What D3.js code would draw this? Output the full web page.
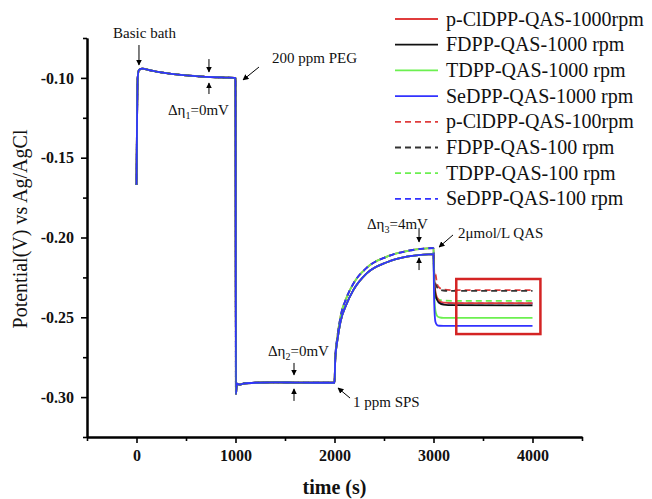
<!DOCTYPE html>
<html>
<head>
<meta charset="utf-8">
<script src="https://cdn.jsdelivr.net/npm/d3@7"></script>
<style>
  html, body { margin: 0; padding: 0; background: #fff; }
  svg { display: block; font-family: "Liberation Serif", "Times New Roman", serif; }
</style>
</head>
<body>
<svg id="chart" width="652" height="499"></svg>
<script>
// ---------------- DATA ----------------
const seriesNames = [
  "p-ClDPP-QAS-1000rpm", "FDPP-QAS-1000 rpm", "TDPP-QAS-1000 rpm", "SeDPP-QAS-1000 rpm",
  "p-ClDPP-QAS-100rpm", "FDPP-QAS-100 rpm", "TDPP-QAS-100 rpm", "SeDPP-QAS-100 rpm"
];
const seriesDashed = [false, false, false, false, true, true, true, true];

// common part (basic bath + 200 ppm PEG), time (s) / potential (V)
const baseT = [0, 5, 12, 25, 60, 120, 200, 300, 400, 500, 600, 700, 800, 900, 995, 1000, 1004, 1015, 1040, 1080, 1200, 1400, 1600, 1800, 1995];
const baseV = [-0.1670, -0.1300, -0.1000, -0.0950, -0.0942, -0.0950, -0.0960, -0.0970, -0.0978, -0.0984, -0.0989, -0.0993, -0.0996, -0.0998, -0.1000, -0.1002, -0.2980, -0.2915, -0.2922, -0.2915, -0.2910, -0.2908, -0.2909, -0.2910, -0.2910];

// 1 ppm SPS section
const riseT = [2000, 2008, 2030, 2060, 2120, 2190, 2325, 2530, 2730, 2900, 2998];
const riseSolidV  = [-0.2910, -0.2760, -0.2640, -0.2530, -0.2420, -0.2330, -0.2225, -0.2155, -0.2120, -0.2107, -0.2104];
const riseDashedV = [-0.2910, -0.2750, -0.2620, -0.2500, -0.2380, -0.2290, -0.2190, -0.2120, -0.2085, -0.2070, -0.2066];

// 2 umol/L QAS section
const tailT = [3000, 3004, 3010, 3020, 3035, 3060, 3100, 3200, 4000];
const tail_pCl1000 = [-0.2104, -0.2180, -0.2280, -0.2340, -0.2375, -0.2398, -0.2408, -0.2411, -0.2412];
const tail_F1000   = [-0.2104, -0.2220, -0.2310, -0.2360, -0.2390, -0.2410, -0.2420, -0.2424, -0.2425];
const tail_T1000   = [-0.2104, -0.2260, -0.2390, -0.2460, -0.2490, -0.2501, -0.2504, -0.2504, -0.2504];
const tail_Se1000  = [-0.2104, -0.2300, -0.2460, -0.2530, -0.2548, -0.2553, -0.2554, -0.2554, -0.2554];
const tail_pCl100  = [-0.2066, -0.2150, -0.2240, -0.2230, -0.2290, -0.2315, -0.2326, -0.2330, -0.2330];
const tail_F100    = [-0.2066, -0.2170, -0.2260, -0.2290, -0.2310, -0.2325, -0.2332, -0.2335, -0.2335];
const tail_T100    = [-0.2066, -0.2190, -0.2290, -0.2350, -0.2378, -0.2390, -0.2395, -0.2397, -0.2397];
const tail_Se100   = [-0.2066, -0.2200, -0.2320, -0.2380, -0.2400, -0.2408, -0.2412, -0.2413, -0.2413];
const tails = [tail_pCl1000, tail_F1000, tail_T1000, tail_Se1000, tail_pCl100, tail_F100, tail_T100, tail_Se100];

const xMajorTicks = [0, 1000, 2000, 3000, 4000];
const xMinorTicks = [-500, 500, 1500, 2500, 3500, 4500];
const yMajorTicks = [-0.30, -0.25, -0.20, -0.15, -0.10];
const yMinorTicks = [-0.325, -0.275, -0.225, -0.175, -0.125, -0.075];

// highlighted region (data coords)
const boxT = [3230, 4080];
const boxV = [-0.2605, -0.2260];

// annotations (data coords)
const arrows = [ // [t1, v1, t2, v2] tail -> head
  [25, -0.0794, 25, -0.0919],
  [732, -0.0882, 732, -0.0963],
  [732, -0.1101, 732, -0.1032],
  [1237, -0.0932, 1076, -0.1013],
  [1591, -0.2786, 1591, -0.2861],
  [1591, -0.3024, 1591, -0.2949],
  [2157, -0.3006, 2035, -0.2943],
  [2854, -0.1940, 2854, -0.2028],
  [2854, -0.2204, 2854, -0.2128],
  [3197, -0.1984, 3056, -0.2060]
];
const labels = [ // [t, v, text, sub, rest, anchor]
  [81, -0.0719, "Basic bath", "", "", "middle"],
  [1369, -0.0875, "200 ppm PEG", "", "", "start"],
  [318, -0.1201, "Δη", "1", "=0mV", "start"],
  [1328, -0.2711, "Δη", "2", "=0mV", "start"],
  [2187, -0.3031, "1 ppm SPS", "", "", "start"],
  [2328, -0.1915, "Δη", "3", "=4mV", "start"],
  [3247, -0.1972, "2μmol/L QAS", "", "", "start"]
];

// ---------------- STYLE ----------------
const colors = ["#e03c3c", "#111111", "#6cf050", "#3232ff", "#e03c3c", "#333333", "#6cf050", "#3232ff"];
const dashOffsets = [0, 0, 0, 0, 0, 5, 0, 5];

// ---------------- CHART ----------------
const svg = d3.select("#chart");
const x = d3.scaleLinear().domain([-500, 4500]).range([87, 582]);
const y = d3.scaleLinear().domain([-0.325, -0.075]).range([437, 38]);

const defs = svg.append("defs");
defs.append("marker").attr("id", "ah")
  .attr("viewBox", "0 0 10 10").attr("refX", 9).attr("refY", 5)
  .attr("markerWidth", 6).attr("markerHeight", 6)
  .attr("markerUnits", "userSpaceOnUse")
  .attr("orient", "auto")
  .append("path").attr("d", "M0,0 L10,5 L0,10 Z").attr("fill", "#000");

// build series
const series = seriesNames.map((name, i) => {
  const pts = baseT.map((t, k) => [t, baseV[k]]);
  const rv = seriesDashed[i] ? riseDashedV : riseSolidV;
  riseT.forEach((t, k) => pts.push([t, rv[k]]));
  tailT.forEach((t, k) => pts.push([t, tails[i][k]]));
  return { name, dashed: seriesDashed[i], color: colors[i], off: dashOffsets[i], pts };
});

const line = d3.line().x(d => x(d[0])).y(d => y(d[1])).curve(d3.curveMonotoneX);

// draw dashed first, then solid on top
const drawOrder = [4, 5, 6, 7, 0, 1, 2, 3];
svg.append("g").selectAll("path").data(drawOrder.map(i => series[i])).join("path")
  .attr("d", d => line(d.pts))
  .attr("fill", "none")
  .attr("stroke", d => d.color)
  .attr("stroke-width", 1.8)
  .attr("stroke-dasharray", d => d.dashed ? "6,4" : null)
  .attr("stroke-dashoffset", d => d.off);

// red box
svg.append("rect")
  .attr("x", x(boxT[0])).attr("y", y(boxV[1]))
  .attr("width", x(boxT[1]) - x(boxT[0])).attr("height", y(boxV[0]) - y(boxV[1]))
  .attr("fill", "none").attr("stroke", "#d42424").attr("stroke-width", 2.5);

// axes
const fmt = d => d.toFixed(2);
const gx = svg.append("g").attr("transform", "translate(0,437)")
  .call(d3.axisBottom(x).tickValues(xMajorTicks).tickSize(6).tickSizeOuter(0).tickPadding(7).tickFormat(d3.format("d")));
const gxm = svg.append("g").attr("transform", "translate(0,437)")
  .call(d3.axisBottom(x).tickValues(xMinorTicks).tickSize(4).tickSizeOuter(0).tickFormat(""));
const gy = svg.append("g").attr("transform", "translate(87,0)")
  .call(d3.axisLeft(y).tickValues(yMajorTicks).tickSize(6).tickSizeOuter(0).tickPadding(7).tickFormat(fmt));
const gym = svg.append("g").attr("transform", "translate(87,0)")
  .call(d3.axisLeft(y).tickValues(yMinorTicks).tickSize(4).tickSizeOuter(0).tickFormat(""));
[gx, gxm, gy, gym].forEach(g => {
  g.selectAll("path.domain").attr("stroke", "#000").attr("stroke-width", 2);
  g.selectAll(".tick line").attr("stroke", "#000").attr("stroke-width", 1.6);
  g.selectAll("text").attr("fill", "#111").attr("font-size", 16).attr("font-weight", "bold")
    .attr("font-family", "'Liberation Serif', 'Times New Roman', serif");
});

// axis titles
svg.append("text").attr("x", x(2000)).attr("y", 494)
  .attr("text-anchor", "middle").attr("font-size", 20).attr("font-weight", "bold").attr("fill", "#111")
  .text("time (s)");
svg.append("text").attr("transform", "translate(27,229) rotate(-90)")
  .attr("text-anchor", "middle").attr("font-size", 20).attr("fill", "#111")
  .text("Potential(V) vs Ag/AgCl");

// annotation arrows
svg.append("g").selectAll("line").data(arrows).join("line")
  .attr("x1", d => x(d[0])).attr("y1", d => y(d[1]))
  .attr("x2", d => x(d[2])).attr("y2", d => y(d[3]))
  .attr("stroke", "#000").attr("stroke-width", 1)
  .attr("marker-end", "url(#ah)");

// annotation labels
const lab = svg.append("g").selectAll("text").data(labels).join("text")
  .attr("x", d => x(d[0])).attr("y", d => y(d[1]) + 5)
  .attr("text-anchor", d => d[5])
  .attr("font-size", 15).attr("fill", "#111");
lab.append("tspan").text(d => d[2]);
lab.filter(d => d[3]).append("tspan").attr("font-size", 10).attr("dy", 4).text(d => d[3]);
lab.filter(d => d[4]).append("tspan").attr("dy", -4).text(d => d[4]);

// legend
const leg = svg.append("g").selectAll("g").data(series).join("g")
  .attr("transform", (d, i) => `translate(395,${19 + i * 25.7})`);
leg.append("line").attr("x1", 0).attr("x2", 43).attr("y1", 0).attr("y2", 0)
  .attr("stroke", d => d.color).attr("stroke-width", 1.8)
  .attr("stroke-dasharray", d => d.dashed ? "6,4" : null);
leg.append("text").attr("x", 51).attr("y", 6.5)
  .attr("font-size", 20).attr("fill", "#111").text(d => d.name);
</script>
</body>
</html>
